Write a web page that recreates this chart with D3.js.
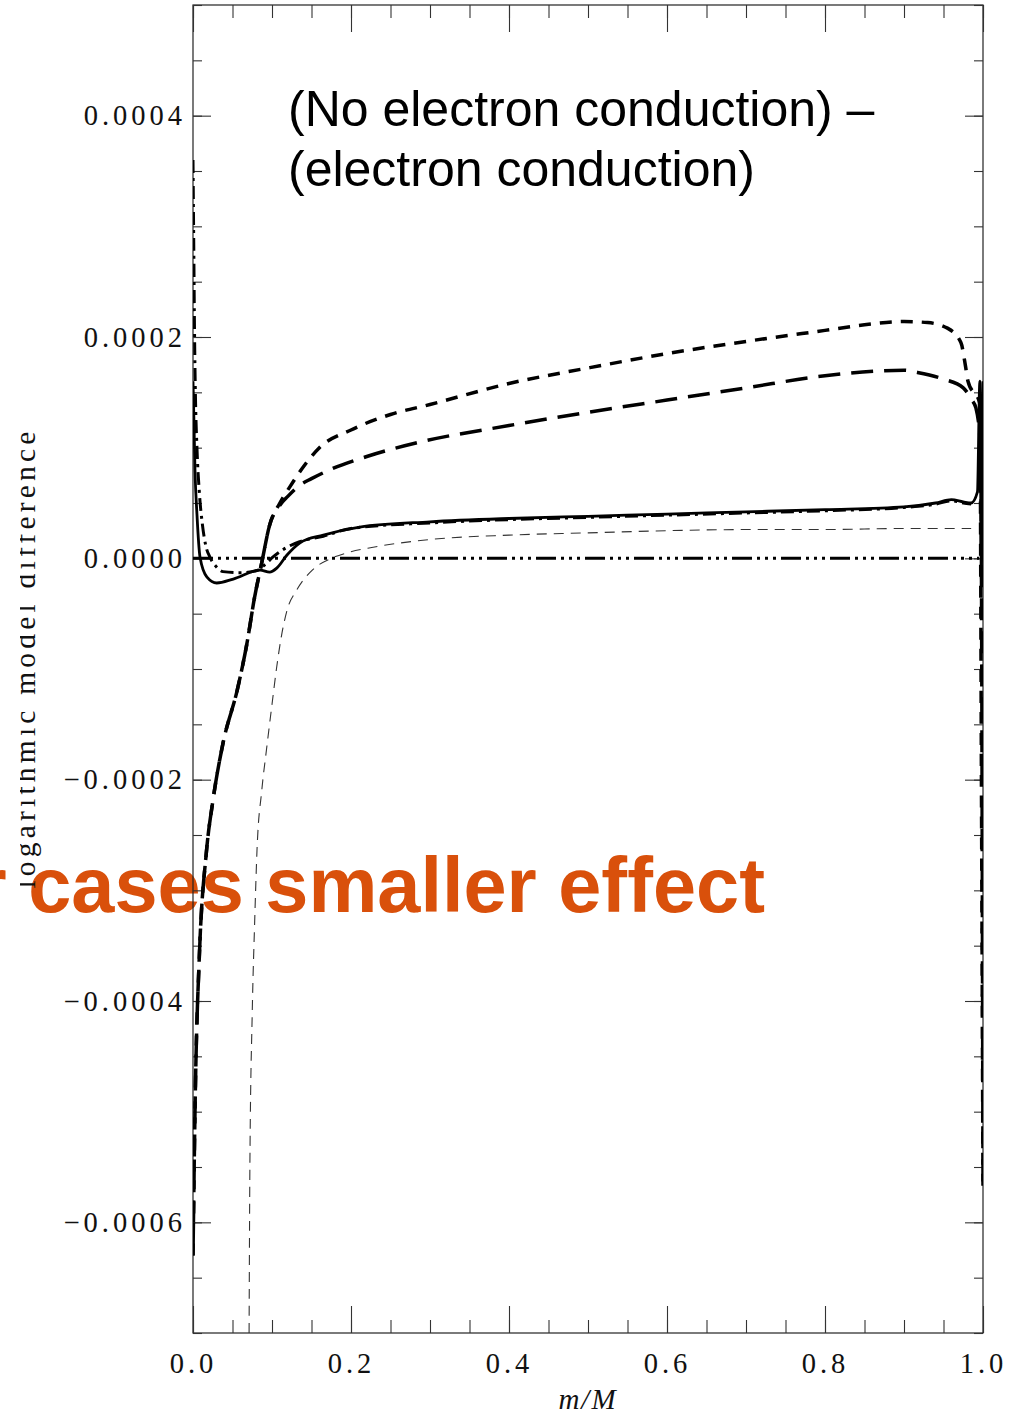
<!DOCTYPE html>
<html><head><meta charset="utf-8">
<script src="https://cdn.jsdelivr.net/npm/d3@7"></script>
<style>body{margin:0;background:#fff} svg{display:block}</style>
</head><body>
<svg id="c" width="1027" height="1415"></svg>
<script>
// ---- data ----
const xTicks = [0, 0.2, 0.4, 0.6, 0.8, 1.0];
const xTickLabels = ["0.0", "0.2", "0.4", "0.6", "0.8", "1.0"];
const yTicks = [0.0004, 0.0002, 0, -0.0002, -0.0004, -0.0006];
const yTickLabels = ["0.0004", "0.0002", "0.0000", "\u22120.0002", "\u22120.0004", "\u22120.0006"];

const solid = [[0,0.00016],[0.001,0.00013],[0.0025,0.00008],[0.005,0.00004],[0.0089,0.000001],[0.0177,-0.000017],
 [0.03,-0.0000223],[0.051,-0.0000187],[0.085,-0.0000106],[0.097,-0.0000124],[0.106,-0.0000088],[0.119,0.000003],
 [0.135,0.0000138],[0.165,0.000021],[0.211,0.0000283],[0.3,0.000033],[0.4,0.000036],[0.5,0.000038],[0.6,0.00004],
 [0.7,0.000042],[0.8,0.000044],[0.9,0.0000465],[0.94,0.00005],[0.96,0.000053],[0.975,0.000051],[0.985,0.00005],
 [0.993,0.00006],[0.996,0.00016],[0.998,-0.00002],[1.0,0.00016]];

const shortDash = [[0,-0.00063],[0.003,-0.00048],[0.008,-0.00036],[0.017,-0.000265],[0.025,-0.00022],[0.038,-0.000167],
 [0.056,-0.000119],[0.068,-0.000078],[0.078,-0.000035],[0.087,-0.000004],[0.097,0.00003],[0.11,0.00005],[0.123,0.000065],
 [0.14,0.000083],[0.16,0.0001],[0.2,0.000116],[0.25,0.00013],[0.3,0.000139],[0.4,0.000158],[0.5,0.000172],[0.6,0.000185],
 [0.7,0.000196],[0.8,0.000206],[0.85,0.000211],[0.9,0.000214],[0.93,0.000213],[0.955,0.000208],[0.972,0.000195],
 [0.978,0.000173],[0.981,0.00016],[0.996,0.00014],[0.998,-0.0002],[1.0,-0.00057]];

const longDash = [[0,-0.00063],[0.003,-0.00048],[0.008,-0.00036],[0.017,-0.000265],[0.025,-0.00022],[0.038,-0.000167],
 [0.056,-0.000119],[0.068,-0.000078],[0.078,-0.000035],[0.087,-0.000004],[0.097,0.00003],[0.11,0.000048],[0.12,0.000056],
 [0.135,0.000066],[0.15,0.000072],[0.173,0.00008],[0.22,0.000092],[0.287,0.000105],[0.4,0.00012],[0.5,0.000132],
 [0.6,0.000143],[0.7,0.000154],[0.8,0.000165],[0.9,0.00017],[0.917,0.000168],[0.95,0.000162],[0.975,0.000154],
 [0.986,0.000143],[0.991,0.000136],[0.997,0.0001],[1.0,-0.00057]];

const thinDash = [[0.071,-0.0007],[0.072,-0.00055],[0.075,-0.00041],[0.078,-0.00033],[0.081,-0.000264],[0.087,-0.00021],
 [0.093,-0.000173],[0.1,-0.000132],[0.106,-0.000098],[0.112,-0.00007],[0.119,-0.000047],[0.131,-0.000029],
 [0.152,-0.00001],[0.175,0.0],[0.195,0.000005],[0.228,0.00001],[0.3,0.000017],[0.4,0.000021],[0.5,0.000023],
 [0.6,0.000025],[0.7,0.000026],[0.8,0.000026],[0.9,0.000027],[0.985,0.000027]];

const dashDot = [[0,0.00036],[0.001,0.00028],[0.002,0.0002],[0.003,0.00015],[0.005,0.0001],[0.008,0.00006],
 [0.012,0.00003],[0.016,0.000012],[0.0215,0.000001],[0.03,-0.000008],[0.038,-0.000012],[0.059,-0.000013],
 [0.081,-0.000011],[0.092,-0.000005],[0.101,0.000001],[0.119,0.00001],[0.135,0.000015],[0.165,0.00002],
 [0.2,0.000027],[0.3,0.000032],[0.4,0.000035],[0.5,0.000037],[0.6,0.000039],[0.7,0.000041],[0.8,0.000043],
 [0.9,0.000046],[0.94,0.000049],[0.96,0.000052],[0.975,0.00005],[0.985,0.000049]];

const zeroLine = [[0,0],[0.995,0]];

// ---- layout ----
const svg = d3.select("#c");
const L = 193, R = 983, T = 5, B = 1333;
const x = d3.scaleLinear().domain([0, 1]).range([L, R]);
const y = d3.scaleLinear().domain([-0.0007, 0.0005]).range([B, T]);

// orange overlay text (behind chart)
svg.append("text").attr("x", 765).attr("y", 912).attr("text-anchor", "end")
  .attr("font-family", "Liberation Sans, Arial, sans-serif").attr("font-weight", "bold")
  .attr("font-size", 77.5).attr("fill", "#D9500B").text("Other cases smaller effect");

const serif = "Liberation Serif, 'DejaVu Serif', serif";

// clip
const defs = svg.append("defs");
defs.append("clipPath").attr("id", "plot").append("rect").attr("x", L).attr("y", T).attr("width", R - L).attr("height", B - T);
defs.append("clipPath").attr("id", "ylab").append("rect").attr("x", 20).attr("y", 0).attr("width", 100).attr("height", 1415);

// frame
svg.append("rect").attr("x", L).attr("y", T).attr("width", R - L).attr("height", B - T)
  .attr("fill", "none").attr("stroke", "#222").attr("stroke-width", 1.2);

const minorX = d3.range(0, 1.0001, 0.05);
const minorY = d3.range(-0.0007, 0.00050001, 0.00005);

function styleAxis(g) {
  g.select(".domain").remove();
  g.selectAll(".tick line").attr("stroke", "#333").attr("stroke-width", 1.1);
  g.selectAll("text").attr("font-family", serif).attr("font-size", 28.5).attr("fill", "#111").attr("letter-spacing", "4px");
}
// bottom
svg.append("g").attr("transform", `translate(0,${B})`)
  .call(d3.axisBottom(x).tickValues(minorX).tickSize(-13).tickFormat(""))
  .call(styleAxis);
svg.append("g").attr("transform", `translate(0,${B})`)
  .call(d3.axisBottom(x).tickValues(xTicks).tickSize(-27).tickPadding(20).tickFormat((d, i) => xTickLabels[i]))
  .call(styleAxis);
// top
svg.append("g").attr("transform", `translate(0,${T})`)
  .call(d3.axisTop(x).tickValues(minorX).tickSize(-13).tickFormat("")).call(styleAxis);
svg.append("g").attr("transform", `translate(0,${T})`)
  .call(d3.axisTop(x).tickValues(xTicks).tickSize(-27).tickFormat("")).call(styleAxis);
// left
svg.append("g").attr("transform", `translate(${L},0)`)
  .call(d3.axisLeft(y).tickValues(minorY).tickSize(-9).tickFormat("")).call(styleAxis);
svg.append("g").attr("transform", `translate(${L},0)`)
  .call(d3.axisLeft(y).tickValues(yTicks).tickSize(-18).tickPadding(7).tickFormat((d, i) => yTickLabels[i]))
  .call(styleAxis);
// right
svg.append("g").attr("transform", `translate(${R},0)`)
  .call(d3.axisRight(y).tickValues(minorY).tickSize(-9).tickFormat("")).call(styleAxis);
svg.append("g").attr("transform", `translate(${R},0)`)
  .call(d3.axisRight(y).tickValues(yTicks).tickSize(-18).tickFormat("")).call(styleAxis);

// axis titles
svg.append("text").attr("x", 588).attr("y", 1409).attr("text-anchor", "middle")
  .attr("font-family", serif).attr("font-style", "italic").attr("font-size", 29).attr("fill", "#111")
  .attr("letter-spacing", "2px").text("m/M");
svg.append("g").attr("clip-path", "url(#ylab)").append("text")
  .attr("transform", "translate(35,658) rotate(-90)").attr("text-anchor", "middle")
  .attr("font-family", serif).attr("font-size", 29.5).attr("fill", "#111").attr("letter-spacing", "4.2px")
  .text("logarithmic model difference");

// title
const title = svg.append("text").attr("font-family", "Liberation Sans, Arial, sans-serif").attr("font-size", 50).attr("fill", "#000");
title.append("tspan").attr("x", 288).attr("y", 126).text("(No electron conduction) \u2013");
title.append("tspan").attr("x", 288).attr("y", 186).text("(electron conduction)");

// curves
const line = d3.line().x(d => x(d[0])).y(d => y(d[1])).curve(d3.curveMonotoneX);
const plot = svg.append("g").attr("clip-path", "url(#plot)");
function draw(data, w, dash, color) {
  plot.append("path").datum(data).attr("d", line).attr("fill", "none")
    .attr("stroke", color || "#000").attr("stroke-width", w)
    .attr("stroke-dasharray", dash).attr("stroke-linejoin", "round");
}
draw(zeroLine, 3, "20,5,3,5,3,5,3,5");
draw(thinDash, 1.1, "10,7", "#333");
draw(dashDot, 3, "13,5,3,5");
draw(longDash, 3.5, "22,11");
draw(shortDash, 3.5, "12,9");
draw(solid, 2.8, null);
</script>
</body></html>
